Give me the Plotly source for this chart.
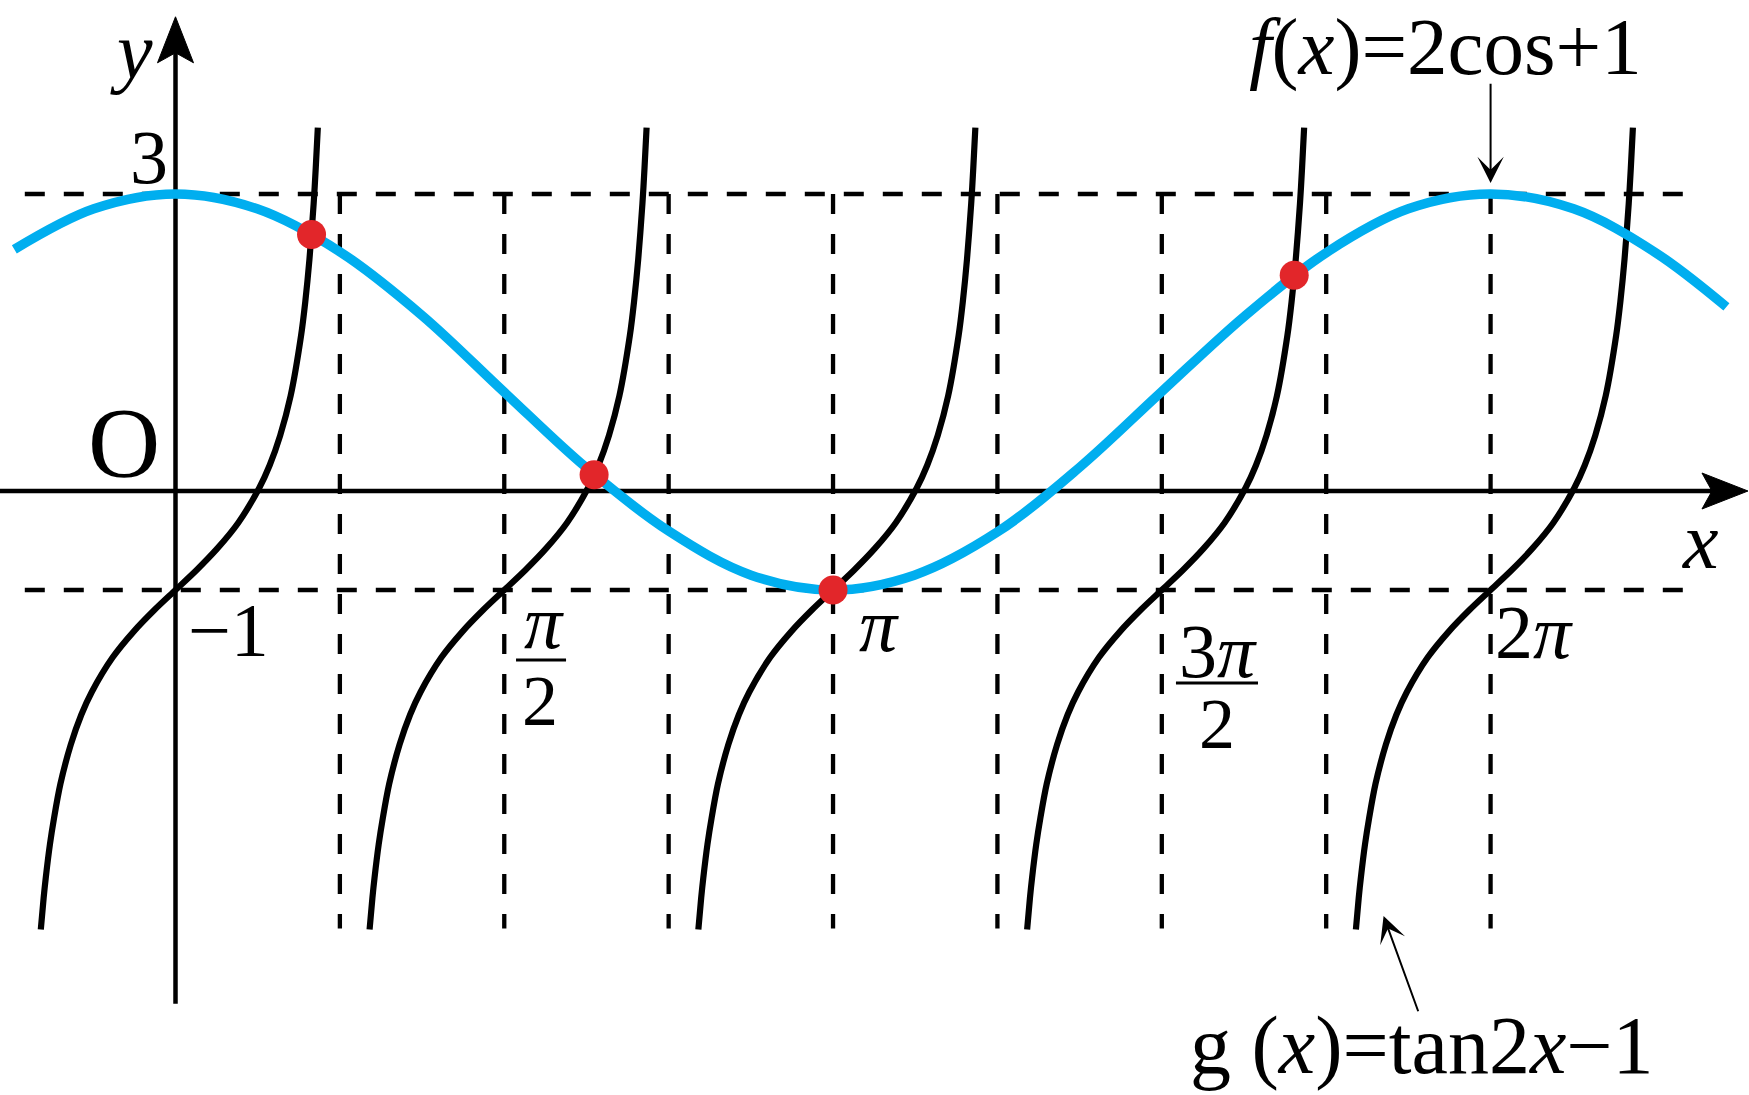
import plotly.graph_objects as go

# ---------------- data ----------------
# f(x) = 2cos x + 1  (blue curve), sampled points
f_x = [-0.77, -0.39, 0.0, 0.39, 0.79, 1.18, 1.57, 1.96, 2.36, 2.75, 3.14,
       3.53, 3.93, 4.32, 4.71, 5.11, 5.50, 5.89, 6.28, 6.68, 7.07, 7.41]
f_y = [2.44, 2.85, 3.0, 2.85, 2.41, 1.77, 1.0, 0.24, -0.41, -0.85, -1.0,
       -0.85, -0.41, 0.24, 1.0, 1.77, 2.41, 2.85, 3.0, 2.85, 2.41, 1.86]

# g(x) = tan2x - 1  (black branches): one branch shape, offsets from its centre
branch_u = [-0.6435, -0.63, -0.62, -0.60, -0.58, -0.55, -0.50, -0.45, -0.40, -0.30,
            -0.20, -0.10, 0.0, 0.10, 0.20, 0.30, 0.40, 0.45, 0.50, 0.55, 0.60,
            0.62, 0.64, 0.66, 0.67, 0.68]
branch_g = [-4.43, -4.11, -3.91, -3.57, -3.30, -2.96, -2.56, -2.26, -2.03, -1.68,
            -1.42, -1.20, -1.0, -0.80, -0.58, -0.32, 0.03, 0.26, 0.56, 0.96, 1.57,
            1.91, 2.34, 2.90, 3.26, 3.67]
branch_centers = [0.0, 1.5708, 3.1416, 4.7124, 6.2832]

# intersection points (red)
pts_x = [0.65, 2.00, 3.1416, 5.345]
pts_y = [2.59, 0.165, -1.0, 2.18]

# dashed guide lines
guide_levels = [3, -1]
guide_span = [-0.72, 7.22]
guide_verticals = [0.7854, 1.5708, 2.3562, 3.1416, 3.9270, 4.7124, 5.4978, 6.2832]
guide_v_span = [3, -4.42]

# axes extents (tip positions)
x_axis_span = [-0.8385, 7.513]
y_axis_span = [-5.18, 4.79]

# labels (text, x, y, size, yanchor)
labels = [
    ("<i>y</i>", -0.21, 4.44, 80, "middle"),
    ("3", -0.125, 3.37, 76, "middle"),
    ("O", -0.246, 0.49, 100, "middle"),
    ("<i>x</i>", 7.288, -0.50, 80, "middle"),
    ("−1", 0.252, -1.40, 76, "middle"),
    ("<i>π</i>", 1.76, -1.32, 76, "middle"),
    ("2", 1.74, -2.12, 72, "middle"),
    ("<i>π</i>", 3.36, -1.35, 76, "middle"),
    ("3<i>π</i>", 4.98, -1.62, 76, "middle"),
    ("2", 4.978, -2.35, 72, "middle"),
    ("2<i>π</i>", 6.49, -1.42, 76, "middle"),
    ("<i>f</i>(<i>x</i>)=2cos+1", 6.07, 4.955, 81, "top"),
    ("g (<i>x</i>)=tan2<i>x</i>−1", 5.956, -5.60, 82, "middle"),
]
frac_bars = [(1.627, 1.866, -1.707), (4.780, 5.172, -1.939)]

BLUE = "#00AEEF"
RED = "#E2262A"
FONT = "Liberation Serif"

fig = go.Figure()

# dashed horizontal guides
hx, hy = [], []
for lv in guide_levels:
    hx += [guide_span[0], guide_span[1], None]
    hy += [lv, lv, None]
fig.add_trace(go.Scatter(x=hx, y=hy, mode="lines",
                         line=dict(color="black", width=4.3, dash="20px,19px"),
                         hoverinfo="skip", showlegend=False))
# dashed vertical guides
vx, vy = [], []
for xv in guide_verticals:
    vx += [xv, xv, None]
    vy += [guide_v_span[0], guide_v_span[1], None]
fig.add_trace(go.Scatter(x=vx, y=vy, mode="lines",
                         line=dict(color="black", width=4.3, dash="20px,20px"),
                         hoverinfo="skip", showlegend=False))

# axes lines
fig.add_trace(go.Scatter(x=[x_axis_span[0], x_axis_span[1] - 0.12], y=[0, 0], mode="lines",
                         line=dict(color="black", width=4.5),
                         hoverinfo="skip", showlegend=False))
fig.add_trace(go.Scatter(x=[0, 0], y=[y_axis_span[0], y_axis_span[1] - 0.25], mode="lines",
                         line=dict(color="black", width=4.5),
                         hoverinfo="skip", showlegend=False))

# tan branches
for c in branch_centers:
    fig.add_trace(go.Scatter(x=[c + u for u in branch_u], y=branch_g, mode="lines",
                             line=dict(color="black", width=6.2, shape="spline", smoothing=0.8),
                             hoverinfo="skip", showlegend=False))

# cosine curve
fig.add_trace(go.Scatter(x=f_x, y=f_y, mode="lines",
                         line=dict(color=BLUE, width=9.5, shape="spline", smoothing=1.0),
                         hoverinfo="skip", showlegend=False))

# intersection points
fig.add_trace(go.Scatter(x=pts_x, y=pts_y, mode="markers",
                         marker=dict(color=RED, size=29, line=dict(width=0)),
                         hoverinfo="skip", showlegend=False))

annotations = []
# pointer arrows for the labels
annotations.append(dict(x=6.2832, y=3.11, ax=6.2832, ay=4.13,
                        xref="x", yref="y", axref="x", ayref="y", text="",
                        showarrow=True, arrowhead=3, arrowsize=2.2, arrowwidth=2,
                        arrowcolor="black"))
annotations.append(dict(x=5.772, y=-4.293, ax=5.94, ay=-5.27,
                        xref="x", yref="y", axref="x", ayref="y", text="",
                        showarrow=True, arrowhead=3, arrowsize=2.2, arrowwidth=2,
                        arrowcolor="black"))
for t, lx, ly, s, ya in labels:
    annotations.append(dict(x=lx, y=ly, xref="x", yref="y", text=t, showarrow=False,
                            xanchor="center", yanchor=ya,
                            font=dict(family=FONT, size=s, color="black")))

shapes = []
for x0, x1, yb in frac_bars:
    shapes.append(dict(type="line", xref="x", yref="y", x0=x0, x1=x1, y0=yb, y1=yb,
                       line=dict(color="black", width=3)))
# axis arrowheads (pixel-sized, anchored at the axis tips)
shapes.append(dict(type="path", xref="x", yref="y", xsizemode="pixel", ysizemode="pixel",
                   xanchor=x_axis_span[1], yanchor=0,
                   path="M0,0 L-46,18 L-36,0 L-46,-18 Z",
                   fillcolor="black", line=dict(color="black", width=1)))
shapes.append(dict(type="path", xref="x", yref="y", xsizemode="pixel", ysizemode="pixel",
                   xanchor=0, yanchor=y_axis_span[1],
                   path="M0,0 L18,-46 L0,-36 L-18,-46 Z",
                   fillcolor="black", line=dict(color="black", width=1)))

fig.update_layout(
    width=1749, height=1095,
    margin=dict(l=0, r=0, t=0, b=0),
    paper_bgcolor="white", plot_bgcolor="white",
    xaxis=dict(range=[-0.8385, 7.5179], visible=False, fixedrange=True),
    yaxis=dict(range=[-6.101, 4.9596], visible=False, fixedrange=True),
    annotations=annotations, shapes=shapes,
    showlegend=False,
)

fig.write_html("out.html", config={"displayModeBar": False},
               post_script="document.body.style.margin='0px';document.body.style.overflow='hidden';")
